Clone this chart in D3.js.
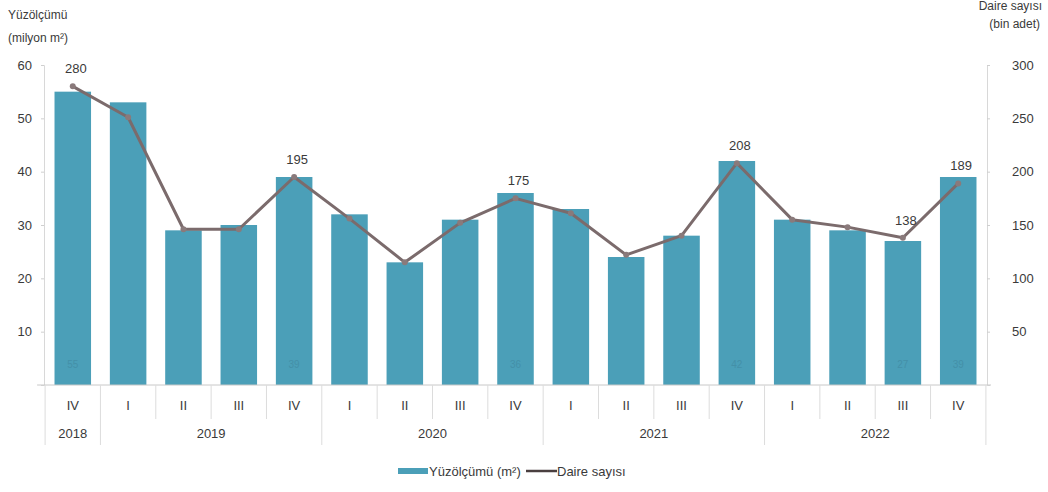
<!DOCTYPE html>
<html>
<head>
<meta charset="utf-8">
<script src="https://cdn.jsdelivr.net/npm/d3@7"></script>
<style>
  body { margin: 0; background: #fff; }
  text { font-family: "Liberation Sans", Arial, sans-serif; fill: #3a3a3a; }
</style>
</head>
<body>
<div id="visualization_container"></div>
<script>
var width = 1048;
var height = 492;

// data
var quarters = ["IV", "I", "II", "III", "IV", "I", "II", "III", "IV", "I", "II", "III", "IV", "I", "II", "III", "IV"];
var years = ["2018", "2019", "2019", "2019", "2019", "2020", "2020", "2020", "2020", "2021", "2021", "2021", "2021", "2022", "2022", "2022", "2022"];
var area = [55, 53, 29, 30, 39, 32, 23, 31, 36, 33, 24, 28, 42, 31, 29, 27, 39];
var dwellings = [280, 251, 146, 146, 195, 156, 115, 152, 175, 161, 122, 140, 208, 155, 148, 138, 189];
var lineLabelIdx = [0, 4, 8, 12, 15, 16];
var barLabelIdx = [0, 4, 8, 12, 15, 16];
var leftTicks = [10, 20, 30, 40, 50, 60];
var rightTicks = [50, 100, 150, 200, 250, 300];

var margin = {top: 65, right: 61, bottom: 107, left: 44};

var svg = d3.select("#visualization_container")
    .append("svg")
    .attr("width", width)
    .attr("height", height);

var ids = d3.range(quarters.length);

var x = d3.scaleBand()
    .domain(ids)
    .range([margin.left, width - margin.right])
    .paddingInner(0.34)
    .paddingOuter(0.19);

var yL = d3.scaleLinear().domain([0, 60]).range([height - margin.bottom, margin.top]);
var yR = d3.scaleLinear().domain([0, 300]).range([height - margin.bottom, margin.top]);

var base = height - margin.bottom;
var step = x.step();
var left0 = x(0) - x.paddingInner() * step / 2;

// left axis
var gl = svg.append("g")
    .attr("transform", "translate(" + margin.left + ",0)")
    .call(d3.axisLeft(yL).tickValues(leftTicks).tickSize(3).tickPadding(9));
gl.select(".domain").attr("stroke", "#d8d8d8");
gl.selectAll(".tick line").attr("stroke", "#cfcfcf");
gl.selectAll(".tick text").attr("font-size", 13).style("fill", "#3a3a3a");

// right axis
var gr = svg.append("g")
    .attr("transform", "translate(" + (width - margin.right) + ",0)")
    .call(d3.axisRight(yR).tickValues(rightTicks).tickSize(3).tickPadding(22));
gr.select(".domain").attr("stroke", "#d8d8d8");
gr.selectAll(".tick line").attr("stroke", "#cfcfcf");
gr.selectAll(".tick text").attr("font-size", 13).style("fill", "#3a3a3a");

// axis titles
svg.append("text").attr("x", 8).attr("y", 19).attr("font-size", 12).text("Yüzölçümü");
svg.append("text").attr("x", 8).attr("y", 42).attr("font-size", 12).text("(milyon m²)");
svg.append("text").attr("x", 1042).attr("y", 10).attr("font-size", 12).attr("text-anchor", "end").text("Daire sayısı");
svg.append("text").attr("x", 1040).attr("y", 28).attr("font-size", 12).attr("text-anchor", "end").text("(bin adet)");

// bars
svg.selectAll(".bar")
    .data(ids)
    .enter().append("rect")
    .attr("class", "bar")
    .attr("x", i => x(i))
    .attr("width", x.bandwidth())
    .attr("y", i => yL(area[i]))
    .attr("height", i => base - yL(area[i]))
    .attr("fill", "#4b9fb8");

// faint values inside bars
svg.selectAll(".barlab")
    .data(barLabelIdx)
    .enter().append("text")
    .attr("class", "barlab")
    .attr("x", i => x(i) + x.bandwidth() / 2)
    .attr("y", base - 17)
    .attr("text-anchor", "middle")
    .attr("font-size", 10)
    .style("fill", "#4490a8")
    .text(i => area[i]);

// x axis baseline and separators
svg.append("line")
    .attr("x1", left0 - 8).attr("x2", width - margin.right + 4)
    .attr("y1", base).attr("y2", base)
    .attr("stroke", "#c8c8c8");

var seps = d3.range(quarters.length + 1);
svg.selectAll(".sep")
    .data(seps)
    .enter().append("line")
    .attr("class", "sep")
    .attr("x1", i => left0 + i * step)
    .attr("x2", i => left0 + i * step)
    .attr("y1", base)
    .attr("y2", i => (i == 0 || i == quarters.length || years[i] != years[i - 1]) ? base + 60 : base + 34)
    .attr("stroke", "#dcdcdc");

svg.selectAll(".qlab")
    .data(ids)
    .enter().append("text")
    .attr("class", "qlab")
    .attr("x", i => x(i) + x.bandwidth() / 2)
    .attr("y", base + 25)
    .attr("text-anchor", "middle")
    .attr("font-size", 13)
    .text(i => quarters[i]);

var yearGroups = d3.groups(ids, i => years[i]);
svg.selectAll(".ylab")
    .data(yearGroups)
    .enter().append("text")
    .attr("class", "ylab")
    .attr("x", d => (x(d[1][0]) + x(d[1][d[1].length - 1]) + x.bandwidth()) / 2)
    .attr("y", base + 53)
    .attr("text-anchor", "middle")
    .attr("font-size", 13)
    .text(d => d[0]);

// line
var line = d3.line()
    .x(i => x(i) + x.bandwidth() / 2)
    .y(i => yR(dwellings[i]));

svg.append("path")
    .datum(ids)
    .attr("d", line)
    .attr("fill", "none")
    .attr("stroke", "#7b6b6c")
    .attr("stroke-width", 3)
    .attr("stroke-linejoin", "round");

svg.selectAll(".dot")
    .data(ids)
    .enter().append("circle")
    .attr("class", "dot")
    .attr("cx", i => x(i) + x.bandwidth() / 2)
    .attr("cy", i => yR(dwellings[i]))
    .attr("r", 3)
    .attr("fill", "#8a7a7b");

svg.selectAll(".linelab")
    .data(lineLabelIdx)
    .enter().append("text")
    .attr("class", "linelab")
    .attr("x", i => x(i) + x.bandwidth() / 2 + 3)
    .attr("y", i => yR(dwellings[i]) - 13)
    .attr("text-anchor", "middle")
    .attr("font-size", 13)
    .text(i => dwellings[i]);

// legend
var lg = svg.append("g").attr("transform", "translate(398,471)");
lg.append("rect").attr("x", 0).attr("y", -3).attr("width", 30).attr("height", 6).attr("fill", "#4b9fb8");
lg.append("text").attr("x", 31).attr("y", 4.5).attr("font-size", 13).text("Yüzölçümü (m²)");
lg.append("line").attr("x1", 128).attr("x2", 159).attr("y1", 0).attr("y2", 0)
    .attr("stroke", "#4a3f40").attr("stroke-width", 2.5);
lg.append("text").attr("x", 159).attr("y", 4.5).attr("font-size", 13).text("Daire sayısı");
</script>
</body>
</html>
